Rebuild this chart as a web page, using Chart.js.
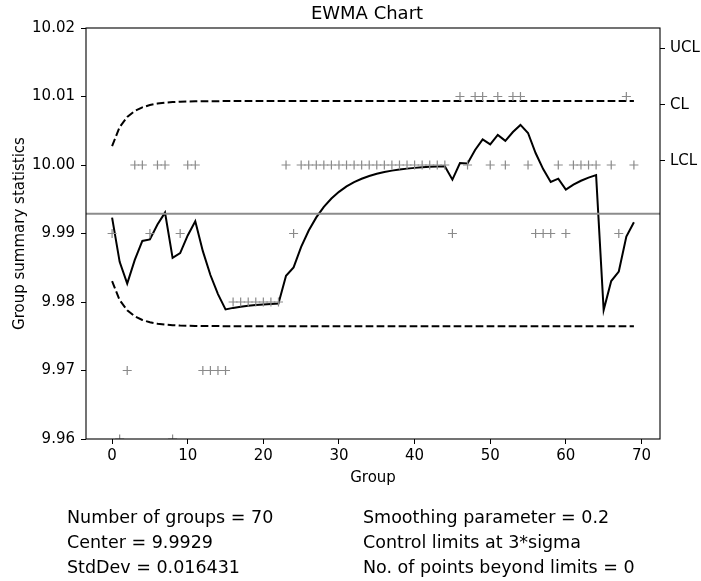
<!DOCTYPE html>
<html>
<head>
<meta charset="utf-8">
<style>
    body {
        margin: 0;
        background: #fff;
    }
    #wrap {
        position: relative;
        width: 701px;
        height: 581px;
        font-family: "DejaVu Sans", sans-serif;
        color: #000;
    }
    #ewma-chart {
        position: absolute;
        left: 0;
        top: 0;
    }
    .title {
        position: absolute;
        left: 80px;
        width: 574px;
        top: 2px;
        text-align: center;
        font-size: 18px;
        line-height: 22px;
    }
    .stats {
        position: absolute;
        top: 505px;
        font-size: 17.5px;
        line-height: 25px;
        white-space: pre;
    }
</style>
</head>
<body>
<div id="wrap">
    <canvas id="ewma-chart" width="701" height="581"></canvas>
    <div class="title">EWMA Chart</div>
    <div class="stats" style="left: 67px;">Number of groups = 70<br>Center = 9.9929<br>StdDev = 0.016431</div>
    <div class="stats" style="left: 363px;">Smoothing parameter = 0.2<br>Control limits at 3*sigma<br>No. of points beyond limits = 0</div>
</div>

<script src="https://cdn.jsdelivr.net/npm/chart.js@4"></script>
<script>
    // group summary statistics, one per group (0..69)
    const groupValues = [
        9.99, 9.96, 9.97, 10.00, 10.00, 9.99, 10.00, 10.00, 9.96, 9.99,
        10.00, 10.00, 9.97, 9.97, 9.97, 9.97, 9.98, 9.98, 9.98, 9.98,
        9.98, 9.98, 9.98, 10.00, 9.99, 10.00, 10.00, 10.00, 10.00, 10.00,
        10.00, 10.00, 10.00, 10.00, 10.00, 10.00, 10.00, 10.00, 10.00, 10.00,
        10.00, 10.00, 10.00, 10.00, 10.00, 9.99, 10.01, 10.00, 10.01, 10.01,
        10.00, 10.01, 10.00, 10.01, 10.01, 10.00, 9.99, 9.99, 9.99, 10.00,
        9.99, 10.00, 10.00, 10.00, 10.00, 9.90, 10.00, 9.99, 10.01, 10.00
    ];

    // smoothed statistic
    const ewmaValues = [
        9.99232, 9.98586, 9.98268, 9.98615, 9.98892, 9.98913, 9.99131, 9.99305, 9.98644, 9.98715,
        9.98972, 9.99178, 9.98742, 9.98394, 9.98115, 9.97892, 9.97914, 9.97931, 9.97945, 9.97956,
        9.97965, 9.97972, 9.97977, 9.98382, 9.98505, 9.98804, 9.99044, 9.99235, 9.99388, 9.99510,
        9.99608, 9.99687, 9.99749, 9.99799, 9.99840, 9.99872, 9.99897, 9.99918, 9.99934, 9.99947,
        9.99958, 9.99966, 9.99973, 9.99978, 9.99983, 9.99786, 10.00029, 10.00023, 10.00219, 10.00375,
        10.00300, 10.00440, 10.00352, 10.00482, 10.00585, 10.00468, 10.00175, 9.99940, 9.99752, 9.99801,
        9.99641, 9.99713, 9.99770, 9.99816, 9.99853, 9.97882, 9.98306, 9.98445, 9.98956, 9.99165
    ];

    // control limits widen over the first groups then stay flat to the last group
    const limitGroups = [0, 1, 2, 3, 4, 5, 6, 7, 8, 9, 10, 11, 12, 13, 14, 15, 69];
    const uclValues = [10.00276, 10.00553, 10.00701, 10.00789, 10.00842, 10.00876, 10.00897, 10.00910, 10.00918,
        10.00924, 10.00927, 10.00929, 10.00931, 10.00932, 10.00932, 10.00933, 10.00933];
    const lclValues = [9.98304, 9.98028, 9.97879, 9.97791, 9.97738, 9.97704, 9.97683, 9.97670, 9.97662,
        9.97656, 9.97653, 9.97651, 9.97649, 9.97649, 9.97648, 9.97647, 9.97647];
    const center = 9.9929;

    const xTicks = [0, 10, 20, 30, 40, 50, 60, 70];
    const yTicks = [9.96, 9.97, 9.98, 9.99, 10.00, 10.01, 10.02];
    const limitTickNames = ['UCL', 'CL', 'LCL'];
    const limitTickPos = [0.95, 0.8135, 0.677];

    const X_MIN = -3.45, X_MAX = 72.45;
    const family = '"DejaVu Sans", sans-serif';

    // box around the plot area
    const frame = {
        id: 'frame',
        afterDraw(chart) {
            const {ctx, chartArea: a} = chart;
            ctx.save();
            ctx.strokeStyle = '#000';
            ctx.lineWidth = 1.1;
            ctx.strokeRect(a.left, a.top, a.right - a.left, a.bottom - a.top);
            ctx.restore();
        }
    };

    const tickGrid = {drawOnChartArea: false, drawTicks: true, tickLength: 5, color: '#000', lineWidth: 1};

    const ctx = document.getElementById('ewma-chart').getContext('2d');
    const chart = new Chart(ctx, {
        type: 'scatter',
        data: {
            datasets: [
                {
                    data: [{x: X_MIN, y: center}, {x: X_MAX, y: center}],
                    showLine: true,
                    borderColor: '#8c8c8c',
                    borderWidth: 2,
                    pointRadius: 0
                },
                {
                    data: groupValues.map((v, i) => ({x: i, y: v})),
                    pointStyle: 'cross',
                    pointRadius: 4.5,
                    borderColor: '#8a8a8a',
                    borderWidth: 1.2,
                    backgroundColor: '#8a8a8a'
                },
                {
                    data: ewmaValues.map((v, i) => ({x: i, y: v})),
                    showLine: true,
                    borderColor: '#000',
                    borderWidth: 2,
                    pointRadius: 0
                },
                {
                    data: limitGroups.map((g, i) => ({x: g, y: uclValues[i]})),
                    showLine: true,
                    borderColor: '#000',
                    borderWidth: 2,
                    borderDash: [7.7, 3.3],
                    pointRadius: 0
                },
                {
                    data: limitGroups.map((g, i) => ({x: g, y: lclValues[i]})),
                    showLine: true,
                    borderColor: '#000',
                    borderWidth: 2,
                    borderDash: [7.7, 3.3],
                    pointRadius: 0
                }
            ]
        },
        options: {
            responsive: false,
            animation: false,
            layout: {padding: {top: 28, bottom: 581 - 439 - 50, left: 0, right: 0}},
            plugins: {
                legend: {display: false},
                tooltip: {enabled: false},
                title: {display: false}
            },
            scales: {
                x: {
                    type: 'linear',
                    min: X_MIN,
                    max: X_MAX,
                    afterBuildTicks: s => { s.ticks = xTicks.map(v => ({value: v})); },
                    afterFit: s => { s.height = 50; },
                    grid: tickGrid,
                    border: {display: false},
                    ticks: {color: '#000', font: {size: 15, family}, padding: 3, maxRotation: 0},
                    title: {display: true, text: 'Group', color: '#000', font: {size: 15, family}, padding: {top: 0, bottom: 2}}
                },
                y: {
                    min: 9.96,
                    max: 10.02,
                    afterBuildTicks: s => { s.ticks = yTicks.map(v => ({value: v})); },
                    afterFit: s => { s.width = 86; },
                    grid: tickGrid,
                    border: {display: false},
                    ticks: {color: '#000', font: {size: 15, family}, padding: 6, callback: v => v.toFixed(2)},
                    title: {display: true, text: 'Group summary statistics', color: '#000', font: {size: 15, family}, padding: {top: 11, bottom: 0}}
                },
                y2: {
                    position: 'right',
                    min: 0,
                    max: 1,
                    afterBuildTicks: s => { s.ticks = limitTickPos.map(v => ({value: v})); },
                    afterFit: s => { s.width = 41; },
                    grid: tickGrid,
                    border: {display: false},
                    ticks: {color: '#000', font: {size: 15, family}, padding: 5, callback: (v, i) => limitTickNames[i]}
                }
            }
        },
        plugins: [frame]
    });
</script>
</body>
</html>
